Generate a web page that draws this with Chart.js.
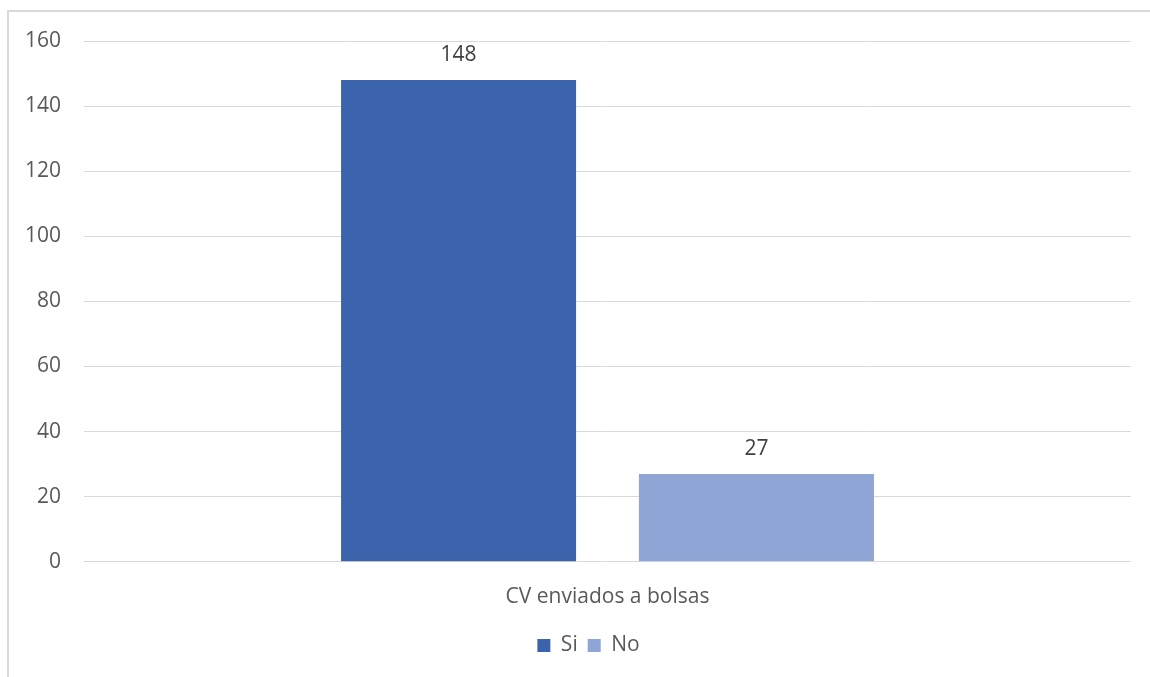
<!DOCTYPE html>
<html>
<head>
<meta charset="utf-8">
<script src="https://cdn.jsdelivr.net/npm/chart.js@4.4.1/dist/chart.umd.min.js"></script>
<style>
  html, body { margin: 0; padding: 0; background: #fff; overflow: hidden; }
  #marco {
    position: absolute; left: 7px; top: 10px; width: 1200px; height: 700px;
    border-left: 2px solid #d9d9d9; border-top: 2px solid #d9d9d9;
  }
  #lienzo { position: absolute; left: 0; top: 0; }
</style>
</head>
<body>
<div id="marco"></div>
<canvas id="lienzo" width="1150" height="677"></canvas>
<script>
// datos de la grafica
var categorias = ['CV enviados a bolsas'];
var serieNombres = ['Si', 'No'];
var serieSi = [148];
var serieNo = [27];
var ticksY = [0, 20, 40, 60, 80, 100, 120, 140, 160];

var COLORES = ['#3c64ad', '#8fa5d6'];
var fuente = '"Open Sans", "Noto Sans", sans-serif';
var tam = 21;

// etiqueta con el valor encima de cada barra
var etiquetasValor = {
  id: 'etiquetasValor',
  afterDatasetsDraw: function(chart){
    var ctx = chart.ctx;
    ctx.save();
    ctx.font = tam + 'px ' + fuente;
    ctx.fillStyle = '#404040';
    ctx.textAlign = 'center';
    ctx.textBaseline = 'middle';
    chart.data.datasets.forEach(function(ds, i){
      var meta = chart.getDatasetMeta(i);
      meta.data.forEach(function(barra, j){
        var p = barra.getProps(['x', 'y'], true);
        ctx.fillText(ds.data[j], p.x, p.y - 25);
      });
    });
    ctx.restore();
  }
};

// la leyenda va centrada en todo el marco, no solo en el area de la grafica
var moverLeyenda = {
  id: 'moverLeyenda',
  afterLayout: function(chart){
    if (chart.legend) {
      chart.legend.left += 23;
      chart.legend.right += 23;
    }
  }
};

var ctx = document.getElementById('lienzo').getContext('2d');
var grafica = new Chart(ctx, {
  type: 'bar',
  data: {
    labels: categorias,
    datasets: [
      { label: serieNombres[0], data: serieSi, backgroundColor: COLORES[0] },
      { label: serieNombres[1], data: serieNo, backgroundColor: COLORES[1] }
    ]
  },
  plugins: [etiquetasValor, moverLeyenda],
  options: {
    responsive: false,
    animation: false,
    categoryPercentage: 0.569,
    barPercentage: 0.789,
    layout: { padding: { left: 0, right: 19, top: 41, bottom: 11 } },
    plugins: {
      tooltip: { enabled: false },
      legend: {
        position: 'bottom',
        labels: {
          font: { family: fuente, size: tam },
          color: '#595959',
          boxWidth: 13,
          boxHeight: 13,
          padding: 10
        }
      }
    },
    scales: {
      x: {
        grid: { display: false },
        border: { display: false },
        ticks: { font: { family: fuente, size: tam }, color: '#595959', padding: 15 }
      },
      y: {
        min: 0,
        max: 160,
        afterBuildTicks: function(eje){
          eje.ticks = ticksY.map(function(v){ return { value: v }; });
        },
        afterFit: function(eje){ eje.width = 84; },
        grid: { color: '#d9d9d9', lineWidth: 1, drawTicks: false },
        border: { display: false },
        ticks: { font: { family: fuente, size: tam }, color: '#595959', padding: 23 }
      }
    }
  }
});
</script>
</body>
</html>
